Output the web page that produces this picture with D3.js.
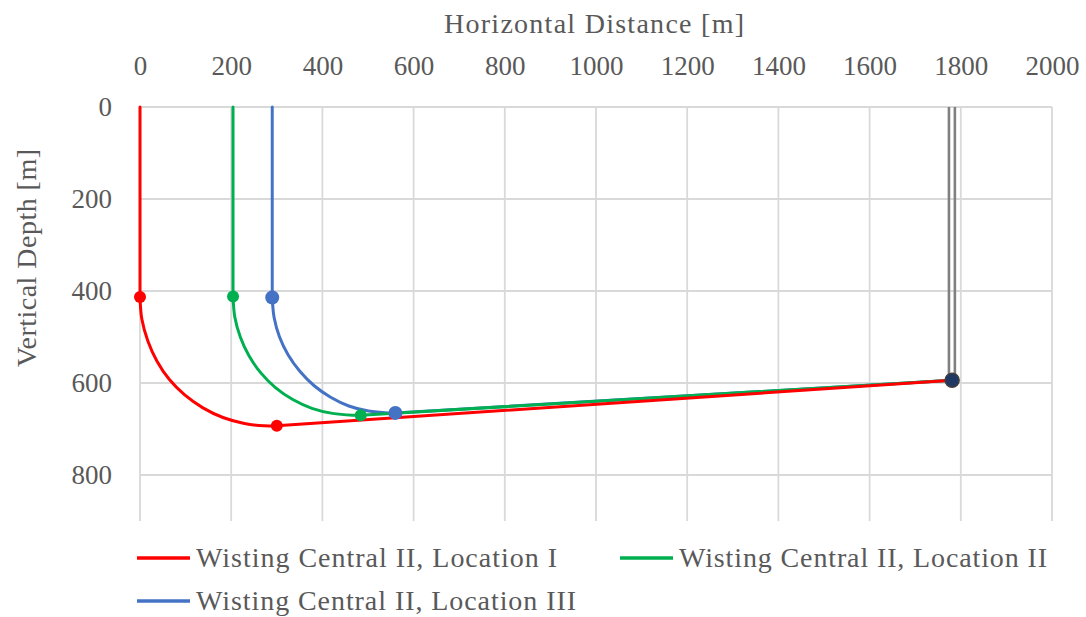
<!DOCTYPE html>
<html>
<head>
<meta charset="utf-8">
<script src="https://cdn.jsdelivr.net/npm/d3@7"></script>
<style>
  html, body { margin: 0; padding: 0; background: #ffffff; }
  svg { display: block; }
  text { font-family: "Liberation Serif", "DejaVu Serif", serif; fill: #595959; }
</style>
</head>
<body>
<svg id="chart" width="1086" height="617"></svg>
<script>
// ---- data ----
const xTicks = [0, 200, 400, 600, 800, 1000, 1200, 1400, 1600, 1800, 2000];
const yTicks = [0, 200, 400, 600, 800];
const seriesNames = ["Wisting Central II, Location I", "Wisting Central II, Location II", "Wisting Central II, Location III"];
const seriesColors = ["#ff0000", "#00b050", "#4472c4"];

// [horizontal distance, vertical depth]
const target = [1781, 594];

const redVertical = [[0, 0], [0, 413]];
const redBuild = [[0, 413], [4, 461], [17, 508], [37, 552], [64, 592], [98, 626], [138, 654], [182, 675], [229, 688], [272, 693], [300, 693]];
const redTangent = [[300, 693], target];

const greenVertical = [[204, 0], [204, 412]];
const greenBuild = [[204, 412], [208, 457], [220, 500], [239, 541], [265, 578], [297, 610], [335, 636], [377, 655], [422, 666], [466, 670], [484, 670]];
const greenTangent = [[484, 670], target];

const blueVertical = [[290, 0], [290, 414]];
const blueBuild = [[290, 414], [294, 457], [306, 500], [325, 539], [351, 575], [382, 606], [418, 631], [458, 650], [501, 661], [544, 665], [560, 665]];
const blueTangent = [[560, 665], target];

const redMarkers = [[0, 413], [300, 693]];
const greenMarkers = [[204, 412], [484, 670]];
const blueMarkers = [[290, 414], [560, 665]];

// double grey vertical line above the target
const greyLines = [[[1774, 0], [1774, 594]], [[1787, 0], [1787, 594]]];

// ---- chart ----
const svg = d3.select("#chart");
const x = d3.scaleLinear().domain([0, 2000]).range([140, 1052]);
const y = d3.scaleLinear().domain([0, 900]).range([107, 521]);

const grid = svg.append("g");
grid.selectAll("line.v").data(xTicks).join("line")
  .attr("x1", d => x(d)).attr("x2", d => x(d))
  .attr("y1", y(0)).attr("y2", y(900))
  .attr("stroke", "#d9d9d9").attr("stroke-width", 1.8);
grid.selectAll("line.h").data(yTicks).join("line")
  .attr("x1", x(0)).attr("x2", x(2000))
  .attr("y1", d => y(d)).attr("y2", d => y(d))
  .attr("stroke", "#d9d9d9").attr("stroke-width", 1.8);

// axes (labels only)
const xAxis = d3.axisTop(x).tickValues(xTicks).tickSize(0).tickPadding(0).tickFormat(d3.format("d"));
const gx = svg.append("g").attr("transform", "translate(0,75)").call(xAxis);
gx.select(".domain").remove();
gx.selectAll("text").attr("font-size", 27).attr("fill", "#595959")
  .style("font-family", "'Liberation Serif', serif");

const yAxis = d3.axisLeft(y).tickValues(yTicks).tickSize(0).tickPadding(0).tickFormat(d3.format("d"));
const gy = svg.append("g").attr("transform", "translate(112,0)").call(yAxis);
gy.select(".domain").remove();
gy.selectAll("text").attr("font-size", 27).attr("fill", "#595959").attr("dy", "0.33em")
  .style("font-family", "'Liberation Serif', serif");

// titles
svg.append("text").attr("x", 594).attr("y", 33).attr("text-anchor", "middle")
  .attr("font-size", 28).attr("textLength", 300).attr("lengthAdjust", "spacing")
  .text("Horizontal Distance [m]");
svg.append("text").attr("transform", "translate(36,258) rotate(-90)").attr("text-anchor", "middle")
  .attr("font-size", 28).attr("textLength", 218).attr("lengthAdjust", "spacing")
  .text("Vertical Depth [m]");

// grey vertical lines
const lin = d3.line().x(d => x(d[0])).y(d => y(d[1]));
svg.append("g").selectAll("path").data(greyLines).join("path")
  .attr("d", lin).attr("fill", "none").attr("stroke", "#808080").attr("stroke-width", 2.6);

// wells
const smooth = d3.line().x(d => x(d[0])).y(d => y(d[1])).curve(d3.curveCatmullRom.alpha(0.5));
const wells = [
  { v: blueVertical, b: blueBuild, t: blueTangent, c: seriesColors[2] },
  { v: greenVertical, b: greenBuild, t: greenTangent, c: seriesColors[1] },
  { v: redVertical, b: redBuild, t: redTangent, c: seriesColors[0] }
];
wells.forEach(w => {
  const g = svg.append("g").attr("fill", "none").attr("stroke", w.c).attr("stroke-width", 3)
    .attr("stroke-linecap", "round").attr("stroke-linejoin", "round");
  g.append("path").attr("d", lin(w.v));
  g.append("path").attr("d", smooth(w.b));
  g.append("path").attr("d", lin(w.t));
});

// markers
const markerSets = [
  { pts: redMarkers, c: seriesColors[0], r: 6 },
  { pts: greenMarkers, c: seriesColors[1], r: 6 },
  { pts: blueMarkers, c: seriesColors[2], r: 7 }
];
markerSets.forEach(m => {
  svg.append("g").selectAll("circle").data(m.pts).join("circle")
    .attr("cx", d => x(d[0])).attr("cy", d => y(d[1])).attr("r", m.r).attr("fill", m.c);
});
svg.append("circle").attr("cx", x(target[0])).attr("cy", y(target[1])).attr("r", 7)
  .attr("fill", "#1f3864").attr("stroke", "#404040").attr("stroke-width", 1.5);

// legend
const legendItems = [
  { name: seriesNames[0], c: seriesColors[0], lx: 137, ly: 558, tl: 361 },
  { name: seriesNames[1], c: seriesColors[1], lx: 620, ly: 558, tl: 368 },
  { name: seriesNames[2], c: seriesColors[2], lx: 137, ly: 601, tl: 380 }
];
const lg = svg.append("g");
legendItems.forEach(it => {
  lg.append("line").attr("x1", it.lx).attr("x2", it.lx + 53).attr("y1", it.ly).attr("y2", it.ly)
    .attr("stroke", it.c).attr("stroke-width", 3.5);
  lg.append("text").attr("x", it.lx + 59).attr("y", it.ly).attr("dy", "0.33em")
    .attr("font-size", 28).attr("textLength", it.tl).attr("lengthAdjust", "spacing")
    .text(it.name);
});
</script>
</body>
</html>
